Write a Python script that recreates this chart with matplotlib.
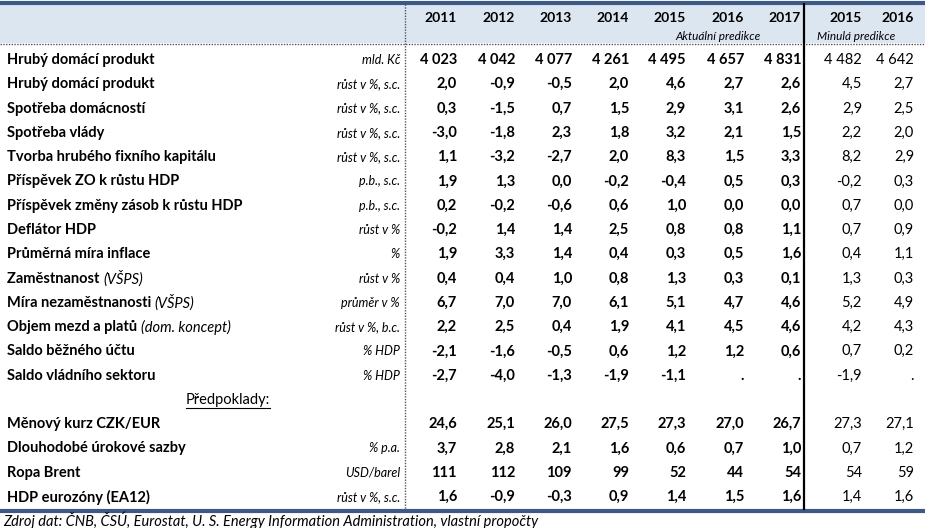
import matplotlib.pyplot as plt

# years in the header
years_now = ['2011', '2012', '2013', '2014', '2015', '2016', '2017']
years_prev = ['2015', '2016']

# row labels: (bold part, italic part)
labels = [
    ('Hrubý domácí produkt', ''),
    ('Hrubý domácí produkt', ''),
    ('Spotřeba domácností', ''),
    ('Spotřeba vlády', ''),
    ('Tvorba hrubého fixního kapitálu', ''),
    ('Příspěvek ZO k růstu HDP', ''),
    ('Příspěvek změny zásob k růstu HDP', ''),
    ('Deflátor HDP', ''),
    ('Průměrná míra inflace', ''),
    ('Zaměstnanost ', '(VŠPS)'),
    ('Míra nezaměstnanosti ', '(VŠPS)'),
    ('Objem mezd a platů ', '(dom. koncept)'),
    ('Saldo běžného účtu', ''),
    ('Saldo vládního sektoru', ''),
    ('Měnový kurz CZK/EUR', ''),
    ('Dlouhodobé úrokové sazby', ''),
    ('Ropa Brent', ''),
    ('HDP eurozóny (EA12)', ''),
]
units = ['mld. Kč', 'růst v %, s.c.', 'růst v %, s.c.', 'růst v %, s.c.', 'růst v %, s.c.',
         'p.b., s.c.', 'p.b., s.c.', 'růst v %', '%', 'růst v %', 'průměr v %',
         'růst v %, b.c.', '% HDP', '% HDP', '', '% p.a.', 'USD/barel', 'růst v %, s.c.']
# number format per row: 'k' thousands, 'd' one decimal, 'i' integer
formats = ['k'] + ['d'] * 15 + ['i', 'd']

# current prediction 2011-2017
now = [
    [4023, 4042, 4077, 4261, 4495, 4657, 4831],
    [2.0, -0.9, -0.5, 2.0, 4.6, 2.7, 2.6],
    [0.3, -1.5, 0.7, 1.5, 2.9, 3.1, 2.6],
    [-3.0, -1.8, 2.3, 1.8, 3.2, 2.1, 1.5],
    [1.1, -3.2, -2.7, 2.0, 8.3, 1.5, 3.3],
    [1.9, 1.3, 0.0, -0.2, -0.4, 0.5, 0.3],
    [0.2, -0.2, -0.6, 0.6, 1.0, 0.0, 0.0],
    [-0.2, 1.4, 1.4, 2.5, 0.8, 0.8, 1.1],
    [1.9, 3.3, 1.4, 0.4, 0.3, 0.5, 1.6],
    [0.4, 0.4, 1.0, 0.8, 1.3, 0.3, 0.1],
    [6.7, 7.0, 7.0, 6.1, 5.1, 4.7, 4.6],
    [2.2, 2.5, 0.4, 1.9, 4.1, 4.5, 4.6],
    [-2.1, -1.6, -0.5, 0.6, 1.2, 1.2, 0.6],
    [-2.7, -4.0, -1.3, -1.9, -1.1, None, None],
    [24.6, 25.1, 26.0, 27.5, 27.3, 27.0, 26.7],
    [3.7, 2.8, 2.1, 1.6, 0.6, 0.7, 1.0],
    [111, 112, 109, 99, 52, 44, 54],
    [1.6, -0.9, -0.3, 0.9, 1.4, 1.5, 1.6],
]
# previous prediction 2015-2016
prev = [
    [4482, 4642], [4.5, 2.7], [2.9, 2.5], [2.2, 2.0], [8.2, 2.9], [-0.2, 0.3],
    [0.7, 0.0], [0.7, 0.9], [0.4, 1.1], [1.3, 0.3], [5.2, 4.9], [4.2, 4.3],
    [0.7, 0.2], [-1.9, None], [27.3, 27.1], [0.7, 1.2], [54, 59], [1.4, 1.6],
]


def fmt(v, f):
    if v is None:
        return '.'
    if f == 'k':
        return '{:,}'.format(int(v)).replace(',', ' ')
    if f == 'i':
        return str(int(v))
    return '{:.1f}'.format(v).replace('.', ',')


FONT = 'Lato'
W, H = 925, 528
fig = plt.figure(figsize=(W / 100, H / 100), dpi=100)
ax = fig.add_axes([0, 0, 1, 1])
ax.set_xlim(0, W)
ax.set_ylim(H, 0)
ax.axis('off')

blue = '#3d5a87'
col_x = [457, 515, 572, 629, 686, 744, 801]
prev_x = [862, 914]
row_y0, dy = 60, 24.28

# header band and lines
ax.add_patch(plt.Rectangle((0, 4), W, 39, color='#dce6f1', lw=0))
ax.plot([0, W], [2.5, 2.5], color=blue, lw=3, solid_capstyle='butt')
ax.plot([0, W], [43.5, 43.5], color='#555555', lw=1, ls=(0, (1, 1)))
ax.plot([0, W], [510.5, 510.5], color=blue, lw=3, solid_capstyle='butt')
ax.plot([405, 405], [4, 509], color='#555555', lw=1, ls=(0, (1, 1)))
ax.plot([804, 804], [4, 509], color='black', lw=1.6)

for x, y in zip(col_x, years_now):
    ax.text(x, 18, y, ha='right', va='center', fontsize=10, fontweight='bold', family=FONT)
for x, y in zip(prev_x, years_prev):
    ax.text(x, 18, y, ha='right', va='center', fontsize=10, fontweight='bold', family=FONT)
ax.text(718, 36, 'Aktuální predikce', ha='center', va='center', fontsize=8.5,
        style='italic', family=FONT)
ax.text(856, 36, 'Minulá predikce', ha='center', va='center', fontsize=8.5,
        style='italic', family=FONT)

fig.canvas.draw()
r = fig.canvas.get_renderer()
inv = ax.transData.inverted()

rows_y = []
for i in range(len(labels)):
    k = i if i < 14 else i + 1
    rows_y.append(row_y0 + k * dy)

for i, (lab, it) in enumerate(labels):
    y = rows_y[i]
    t = ax.text(7, y, lab, ha='left', va='center', fontsize=10.5, fontweight='bold', family=FONT)
    if it:
        bb = t.get_window_extent(r)
        x_end = inv.transform((bb.x1, bb.y0))[0]
        ax.text(x_end, y, it, ha='left', va='center', fontsize=10.5, style='italic', family=FONT)
    ax.text(400, y, units[i], ha='right', va='center', fontsize=9, style='italic', family=FONT)
    for x, v in zip(col_x, now[i]):
        ax.text(x, y, fmt(v, formats[i]), ha='right', va='center', fontsize=10.5,
                fontweight='bold', family=FONT)
    for x, v in zip(prev_x, prev[i]):
        ax.text(x, y, fmt(v, formats[i]), ha='right', va='center', fontsize=10.5, family=FONT)

# underlined section title
py = row_y0 + 14 * dy
t = ax.text(228, py, 'Předpoklady:', ha='center', va='center', fontsize=10.5, family=FONT)
bb = t.get_window_extent(r)
(x0, y0), (x1, _) = inv.transform([(bb.x0, bb.y0), (bb.x1, bb.y1)])
ax.plot([x0, x1], [y0 + 1, y0 + 1], color='black', lw=0.8)

ax.text(3, 520, 'Zdroj dat: ČNB, ČSÚ, Eurostat, U. S. Energy Information Administration, vlastní propočty',
        ha='left', va='center', fontsize=10.5, style='italic', family=FONT)

fig.savefig('out.png', dpi=100)
